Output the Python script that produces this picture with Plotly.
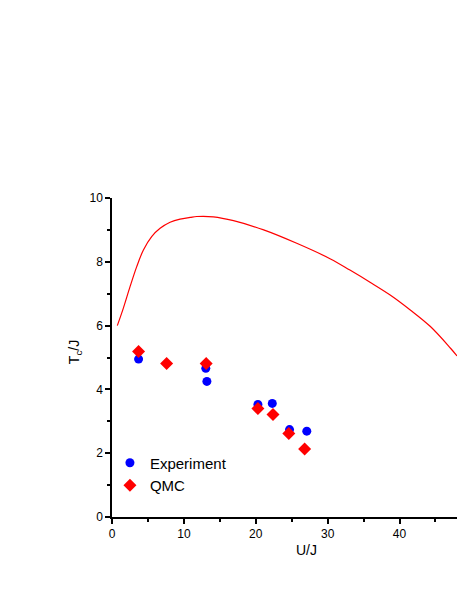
import plotly.graph_objects as go

# Experiment (blue circles)
exp_u = [3.7, 13.05, 13.2, 20.3, 22.3, 24.7, 27.1]
exp_t = [4.95, 4.66, 4.25, 3.53, 3.56, 2.74, 2.69]

# QMC (red diamonds)
qmc_u = [3.7, 7.6, 13.1, 20.3, 22.4, 24.6, 26.8]
qmc_t = [5.19, 4.81, 4.81, 3.40, 3.21, 2.62, 2.13]

# theory curve (red line)
curve_u = [0.74, 1.57, 2.51, 3.44, 4.37, 5.52, 6.69, 8.08, 9.47, 10.86, 11.8,
           14.1, 16.9, 21.1, 25.7, 30.4, 33.1, 35.9, 38.7, 41.5, 44.3, 47.1, 48.0]
curve_t = [6.0, 6.54, 7.22, 7.85, 8.37, 8.79, 9.05, 9.24, 9.34, 9.39, 9.42,
           9.41, 9.29, 9.00, 8.58, 8.09, 7.74, 7.36, 6.96, 6.49, 5.97, 5.29, 5.05]

FONT = "Liberation Sans, Arial, sans-serif"

fig = go.Figure()
fig.add_trace(go.Scatter(
    x=curve_u, y=curve_t, mode="lines", line=dict(color="#ff0000", width=1.2, shape="spline"),
    showlegend=False, hoverinfo="skip",
))
fig.add_trace(go.Scatter(
    x=exp_u, y=exp_t, mode="markers", name="Experiment",
    marker=dict(color="#0000ff", size=9, symbol="circle"),
))
fig.add_trace(go.Scatter(
    x=qmc_u, y=qmc_t, mode="markers", name="QMC",
    marker=dict(color="#ff0000", size=10, symbol="diamond"),
))

axis_common = dict(
    showgrid=False, zeroline=False, showline=True, linecolor="black", linewidth=1.5,
    ticks="outside", ticklen=5, tickwidth=1.5, tickcolor="black",
    tickfont=dict(family=FONT, size=12, color="black"),
    minor=dict(ticks="outside", ticklen=3, tickwidth=1.5, tickcolor="black"),
)

fig.update_xaxes(range=[0, 48], dtick=10, minor_dtick=5, **axis_common)
fig.update_yaxes(range=[0, 10], dtick=2, minor_dtick=1, **axis_common)

# axis titles as annotations (x title sits off-centre in the original)
fig.add_annotation(
    text="U/J", xref="paper", yref="paper", x=0.565, y=-0.103,
    xanchor="center", yanchor="middle",
    showarrow=False, font=dict(family=FONT, size=14, color="black"),
)
fig.add_annotation(
    text="T<sub>c</sub>/J", xref="paper", yref="paper", x=-0.107, y=0.517,
    xanchor="center", yanchor="middle", textangle=-90,
    showarrow=False, font=dict(family=FONT, size=14, color="black"),
)

fig.update_layout(
    width=457, height=591,
    margin=dict(l=112, r=0, t=198, b=74),
    paper_bgcolor="white", plot_bgcolor="white",
    font=dict(family=FONT, color="black"),
    legend=dict(x=-0.006, y=0.221, xanchor="left", yanchor="top",
                bgcolor="rgba(0,0,0,0)", font=dict(family=FONT, size=15, color="black"),
                itemwidth=30),
)

# drop the default page margin so the figure fills the window exactly
fig.write_html(
    "out.html",
    config={"displayModeBar": False},
    post_script="document.body.style.margin='0';document.body.style.overflow='hidden';",
)
